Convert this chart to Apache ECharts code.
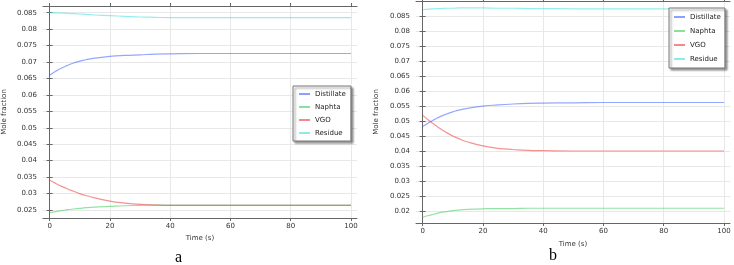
<!DOCTYPE html>
<html>
<head>
<meta charset="utf-8">
<script src="https://cdn.jsdelivr.net/npm/echarts@6/dist/echarts.min.js"></script>
<style>
  html, body { margin: 0; padding: 0; background: #fff; }
  #chart { width: 734px; height: 265px; }
</style>
</head>
<body>
<div id="chart"></div>
<script>
// time points (s)
let time = [0, 2, 4, 6, 8, 10, 12, 15, 20, 25, 30, 35, 40, 50, 60, 70, 80, 90, 100];

// panel a
let distA = [0.0660, 0.0672, 0.0682, 0.0690, 0.0697, 0.0703, 0.0707, 0.0712, 0.0717, 0.0720, 0.0722, 0.0724, 0.0725, 0.0726, 0.0726, 0.0726, 0.0726, 0.0726, 0.0726];
let naphA = [0.0242, 0.0245, 0.0248, 0.0251, 0.0253, 0.0255, 0.0257, 0.0259, 0.0261, 0.0263, 0.0264, 0.0265, 0.0265, 0.0265, 0.0265, 0.0265, 0.0265, 0.0265, 0.0265];
let vgoA = [0.0341, 0.0331, 0.0322, 0.0314, 0.0307, 0.0300, 0.0294, 0.0287, 0.0277, 0.0271, 0.0267, 0.0265, 0.0264, 0.0264, 0.0264, 0.0264, 0.0264, 0.0264, 0.0264];
let resA = [0.0850, 0.08495, 0.0849, 0.0848, 0.0847, 0.0846, 0.0845, 0.0843, 0.0841, 0.0839, 0.0837, 0.0836, 0.0835, 0.0835, 0.0835, 0.0835, 0.0835, 0.0835, 0.0835];

// panel b
let distB = [0.0482, 0.0495, 0.0506, 0.0516, 0.0524, 0.0531, 0.0537, 0.0543, 0.0550, 0.0554, 0.0557, 0.0559, 0.0560, 0.0561, 0.0562, 0.0562, 0.0562, 0.0562, 0.0562];
let naphB = [0.0181, 0.0187, 0.0192, 0.0197, 0.0200, 0.0203, 0.0205, 0.0207, 0.0209, 0.0210, 0.0210, 0.0211, 0.0211, 0.0211, 0.0211, 0.0211, 0.0211, 0.0211, 0.0211];
let vgoB = [0.0520, 0.0503, 0.0488, 0.0474, 0.0462, 0.0451, 0.0442, 0.0431, 0.0418, 0.0410, 0.0406, 0.0403, 0.0402, 0.0401, 0.0401, 0.0401, 0.0401, 0.0401, 0.0401];
let resB = [0.0870, 0.0872, 0.0873, 0.0874, 0.0875, 0.0875, 0.0876, 0.0876, 0.0876, 0.0875, 0.0875, 0.0874, 0.0874, 0.0873, 0.0873, 0.0873, 0.0873, 0.0873, 0.0873];

// tick labels
let xTicks = [0, 20, 40, 60, 80, 100];
let yTicksA = [0.025, 0.03, 0.035, 0.04, 0.045, 0.05, 0.055, 0.06, 0.065, 0.07, 0.075, 0.08, 0.085];
let yTicksB = [0.02, 0.025, 0.03, 0.035, 0.04, 0.045, 0.05, 0.055, 0.06, 0.065, 0.07, 0.075, 0.08, 0.085];

let names = ['Distillate', 'Naphta', 'VGO', 'Residue'];
let colors = ['#3f5fff', '#3ccc5a', '#ee3838', '#3fdede'];

let font = 'DejaVu Sans';
let axisGray = '#666';

let pairs = arr => arr.map((v, i) => [time[i], v]);

let xAxisFor = (gi, top) => ({
    type: 'value', gridIndex: gi, position: top ? 'top' : 'bottom',
    min: -2.2, max: 102,
    name: top ? '' : 'Time (s)',
    nameLocation: 'middle', nameGap: gi === 0 ? 17 : 18,
    nameTextStyle: { fontFamily: font, fontSize: 7, color: '#333' },
    axisLine: { show: true, lineStyle: { color: axisGray, width: 1 } },
    axisTick: { show: true, inside: false, length: 3, customValues: xTicks, lineStyle: { color: axisGray } },
    axisLabel: { show: !top, customValues: xTicks, margin: 5, fontFamily: font, fontSize: 7, color: '#333' },
    splitLine: { show: !top, lineStyle: { color: '#e8e8e8', width: 1 } }
});

let yAxisFor = (gi, right, range, ticks) => ({
    type: 'value', gridIndex: gi, position: right ? 'right' : 'left',
    min: range[0], max: range[1],
    name: right ? '' : 'Mole fraction',
    nameLocation: 'middle', nameGap: gi === 0 ? 35 : 36,
    nameTextStyle: { fontFamily: font, fontSize: 7, color: '#333' },
    axisLine: { show: true, lineStyle: { color: axisGray, width: 1 } },
    axisTick: { show: true, inside: false, length: 3, customValues: ticks, lineStyle: { color: axisGray } },
    axisLabel: { show: !right, customValues: ticks, margin: 6, fontFamily: font, fontSize: 7, color: '#333' },
    splitLine: { show: !right, lineStyle: { color: '#e8e8e8', width: 1 } }
});

let seriesFor = (gi, data) => data.map((d, i) => ({
    name: names[i], type: 'line', xAxisIndex: gi * 2, yAxisIndex: gi * 2,
    data: pairs(d), smooth: true, symbol: 'none',
    color: colors[i],
    lineStyle: { width: 1.2, opacity: 0.55 },
    z: 3
}));

let legendFor = (left, top, gap, pad) => ({
    data: names, orient: 'vertical', left: left, top: top,
    icon: 'rect', itemWidth: 11, itemHeight: 1.2, itemGap: gap,
    padding: pad,
    backgroundColor: '#fff', borderColor: '#777', borderWidth: 1, borderRadius: 0,
    shadowColor: 'rgba(0,0,0,0.4)', shadowBlur: 2, shadowOffsetX: 2, shadowOffsetY: 2,
    textStyle: { fontFamily: font, fontSize: 7, color: '#222', padding: [0, 0, 0, 0], lineHeight: 8 },
    lineStyle: { opacity: 1 },
    itemStyle: { opacity: 1 },
    selectedMode: false
});

let option = {
    animation: false,
    grid: [
        { left: 40, top: 6, right: 377, bottom: 47 },
        { left: 416, top: 1, right: 4, bottom: 42 }
    ],
    xAxis: [xAxisFor(0, false), xAxisFor(0, true), xAxisFor(1, false), xAxisFor(1, true)],
    yAxis: [
        yAxisFor(0, false, [0.02257, 0.08704], yTicksA),
        yAxisFor(0, true, [0.02257, 0.08704], yTicksA),
        yAxisFor(1, false, [0.0162, 0.0899], yTicksB),
        yAxisFor(1, true, [0.0162, 0.0899], yTicksB)
    ],
    legend: [legendFor(293, 86, 5, [4, 5, 4, 6]), legendFor(669, 8, 6, [5, 4, 5, 5])],
    series: seriesFor(0, [distA, naphA, vgoA, resA]).concat(seriesFor(1, [distB, naphB, vgoB, resB])),
    graphic: [
        { type: 'text', left: 175, top: 250, style: { text: 'a', font: '16px "Liberation Serif"', fill: '#000' } },
        { type: 'text', left: 549, top: 248, style: { text: 'b', font: '16px "Liberation Serif"', fill: '#000' } }
    ]
};

let myChart = echarts.init(document.getElementById('chart'));
myChart.setOption(option);
</script>
</body>
</html>
